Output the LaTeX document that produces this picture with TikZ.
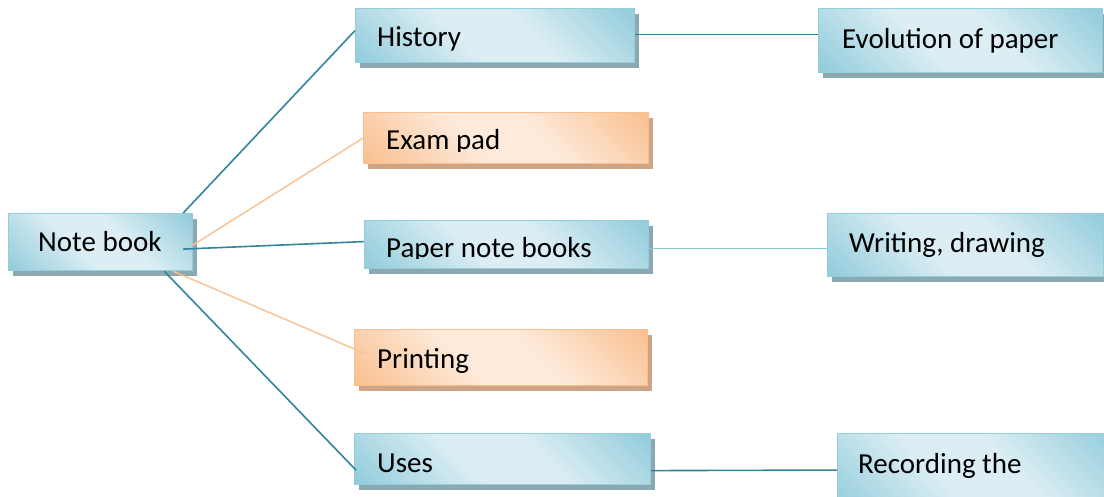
\documentclass[tikz,border=0pt]{standalone}
\usepackage{fontspec}
\setmainfont{Carlito}
\usetikzlibrary{shadows}
\definecolor{blight}{HTML}{DCEEF4}
\definecolor{bdark}{HTML}{92CCDB}
\definecolor{bborder}{HTML}{93CEDD}
\definecolor{bshadowc}{HTML}{8CA8B0}
\definecolor{olight}{HTML}{FDEADA}
\definecolor{odark}{HTML}{FAC090}
\definecolor{oborder}{HTML}{F9BF8F}
\definecolor{oshadowc}{HTML}{CDA586}
\definecolor{teal}{HTML}{31849B}
\definecolor{orline}{HTML}{FAC090}
\definecolor{lblue}{HTML}{86C7D8}
\pgfdeclarehorizontalshading{bluesh}{100bp}{color(0bp)=(bdark); color(15bp)=(bdark); color(42bp)=(blight); color(58bp)=(blight); color(85bp)=(bdark); color(100bp)=(bdark)}
\pgfdeclarehorizontalshading{orangesh}{100bp}{color(0bp)=(odark); color(15bp)=(odark); color(42bp)=(olight); color(58bp)=(olight); color(85bp)=(odark); color(100bp)=(odark)}
\tikzset{
  bluebox/.style={rectangle, inner sep=0pt, anchor=north west, shade, shading=bluesh, shading angle=45, draw=bborder, line width=1.2pt,
    general shadow={fill=bshadowc, shadow xshift=4pt, shadow yshift=-5pt}},
  orangebox/.style={rectangle, inner sep=0pt, anchor=north west, shade, shading=orangesh, shading angle=45, draw=oborder, line width=1.2pt,
    general shadow={fill=oshadowc, shadow xshift=4pt, shadow yshift=-5pt}},
  lbl/.style={anchor=base west, inner sep=0pt, font=\fontsize{29}{34}\selectfont},
  darkline/.style={draw=teal, line width=1.6pt},
  orangeline/.style={draw=orline, line width=1.4pt},
  lightline/.style={draw=lblue, line width=1.4pt},
}
\begin{document}
\begin{tikzpicture}[x=1pt,y=-1pt]
\useasboundingbox (0,0) rectangle (1104,497);
\begin{scope}
\clip (0,0) rectangle (1104,497);
% boxes
\node[bluebox, minimum width=184pt, minimum height=57pt] (nb) at (8,213) {};
\node[bluebox, minimum width=279pt, minimum height=54pt] (hist) at (355,8) {};
\node[orangebox, minimum width=285pt, minimum height=51pt] (exam) at (363,112) {};
\node[bluebox, minimum width=284pt, minimum height=64pt] (evo) at (818,8) {};
\node[bluebox, minimum width=284pt, minimum height=48pt] (pnb) at (364,220) {};
\node[bluebox, minimum width=276pt, minimum height=63pt] (writ) at (827,213) {};
\node[orangebox, minimum width=293pt, minimum height=56pt] (print) at (354,329) {};
\node[bluebox, minimum width=296pt, minimum height=51pt] (uses) at (354,433) {};
\node[bluebox, minimum width=280pt, minimum height=80pt] (rec) at (837,433) {};
% labels
\node[lbl] (tnb) at (38,252) {Note book};
\node[lbl] (thist) at (377,47) {History};
\begin{scope}
\clip (0,0) rectangle (1104,152);
\node[lbl] (texam) at (386,150) {Exam pad};
\end{scope}
\node[lbl] (tevo) at (842,49) {Evolution of paper};
\begin{scope}
\clip (0,0) rectangle (1104,259);
\node[lbl] (tpnb) at (386,258) {Paper note books};
\end{scope}
\node[lbl] (twrit) at (849,253) {Writing, drawing};
\node[lbl] (tprint) at (377,368) {Printing};
\node[lbl] (tuses) at (377,472) {Uses};
\node[lbl] (trec) at (858,473) {Recording the};
% connectors
\draw[darkline] ([xshift=-10pt]nb.north east) -- ([yshift=5pt]hist.west);
\draw[orangeline] ([xshift=-2pt,yshift=-4pt]nb.east) -- ([yshift=0pt]exam.west);
\draw[darkline] ([xshift=-10pt,yshift=-7pt]nb.east) -- ([yshift=3pt]pnb.west);
\draw[orangeline] ([xshift=-20pt]nb.south east) -- ([xshift=11pt,yshift=4pt]print.west);
\draw[darkline] ([xshift=-29pt]nb.south east) -- ([xshift=2pt,yshift=-11pt]uses.west);
\draw[darkline] ([yshift=1pt]hist.east) -- ([yshift=6pt]evo.west);
\draw[lightline] ([yshift=-4pt]pnb.east) -- ([yshift=-3.5pt]writ.west);
\draw[darkline] ([yshift=-11.5pt]uses.east) -- ([yshift=3.5pt]rec.west);
\end{scope}
\end{tikzpicture}
\end{document}
